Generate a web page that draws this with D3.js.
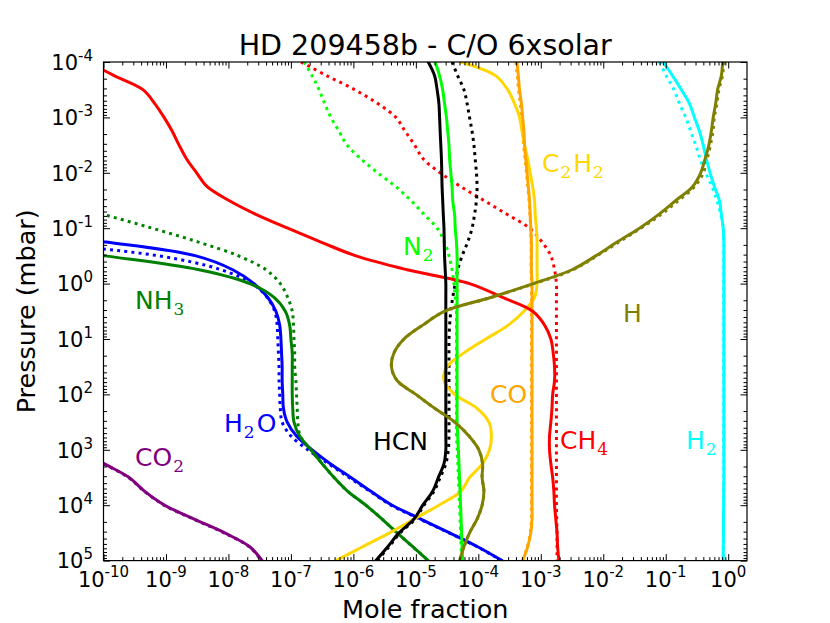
<!DOCTYPE html>
<html><head><meta charset="utf-8">
<script src="https://cdn.jsdelivr.net/npm/d3@7"></script>
<style>body{margin:0;background:#fff}svg{display:block}</style>
</head><body>
<svg id="chart" width="830" height="623"></svg>
<script>
// ---------- data (pressure in mbar, mole fractions) ----------
const pressure = [1e-4, 1.78e-4, 3.16e-4, 5.62e-4, 1e-3, 1.78e-3, 3.16e-3, 5.62e-3, 1e-2, 1.78e-2, 3.16e-2, 5.62e-2, 0.1, 0.178, 0.316, 0.562, 1, 1.78, 3.16, 5.62, 10, 17.8, 31.6, 56.2, 100, 178, 316, 562, 1000, 1780, 3160, 5620, 1e4, 1.78e4, 3.16e4, 5.62e4, 1e5];

const ch4 = [5.62e-11, 1.51e-10, 4.27e-10, 6.61e-10, 9.33e-10, 1.26e-9, 1.62e-9, 2.14e-9, 3.09e-9, 4.57e-9, 1.02e-8, 2.75e-8, 8.91e-8, 3.02e-7, 1.10e-6, 7.24e-6, 7.24e-5, 2.45e-4, 7.41e-4, 1.15e-3, 1.45e-3, 1.58e-3, 1.66e-3, 1.66e-3, 1.55e-3, 1.51e-3, 1.45e-3, 1.38e-3, 1.38e-3, 1.45e-3, 1.55e-3, 1.62e-3, 1.66e-3, 1.74e-3, 1.82e-3, 1.86e-3, 1.95e-3];
const ch4Dot = [1.45e-7, 3.80e-7, 1.05e-6, 2.45e-6, 4.79e-6, 6.76e-6, 9.55e-6, 1.32e-5, 2.45e-5, 5.25e-5, 1.23e-4, 2.88e-4, 6.61e-4, 1.05e-3, 1.45e-3, 1.66e-3, 1.78e-3, 1.78e-3, 1.78e-3, 1.78e-3, 1.78e-3, 1.78e-3, 1.78e-3, 1.78e-3, 1.78e-3, 1.78e-3, 1.78e-3, 1.78e-3, 1.78e-3, 1.78e-3, 1.78e-3, 1.78e-3, 1.78e-3, 1.80e-3, 1.82e-3, 1.82e-3, 1.82e-3];

const n2 = [2.04e-5, 2.40e-5, 2.69e-5, 2.88e-5, 3.09e-5, 3.24e-5, 3.39e-5, 3.47e-5, 3.63e-5, 3.80e-5, 3.89e-5, 4.17e-5, 4.27e-5, 4.47e-5, 4.57e-5, 4.57e-5, 4.57e-5, 4.57e-5, 4.57e-5, 4.57e-5, 4.57e-5, 4.57e-5, 4.57e-5, 4.57e-5, 4.57e-5, 4.57e-5, 4.57e-5, 4.68e-5, 4.79e-5, 4.9e-5, 5.0e-5, 5.1e-5, 5.2e-5, 5.3e-5, 5.4e-5, 5.5e-5, 5.62e-5];
const n2Dot = [1.62e-7, 2.19e-7, 2.82e-7, 3.47e-7, 4.37e-7, 5.89e-7, 7.94e-7, 1.32e-6, 2.45e-6, 4.79e-6, 8.32e-6, 1.35e-5, 2.19e-5, 2.88e-5, 3.39e-5, 3.80e-5, 4.07e-5, 4.27e-5, 4.47e-5, 4.47e-5, 4.47e-5, 4.47e-5, 4.47e-5, 4.47e-5, 4.47e-5, 4.47e-5, 4.47e-5, 4.47e-5, 4.6e-5, 4.7e-5, 4.8e-5, 4.9e-5, 5.0e-5, 5.1e-5, 5.2e-5, 5.3e-5, 5.4e-5];

const hcn = [1.58e-5, 2.00e-5, 2.19e-5, 2.34e-5, 2.40e-5, 2.45e-5, 2.51e-5, 2.57e-5, 2.60e-5, 2.63e-5, 2.69e-5, 2.75e-5, 2.82e-5, 2.85e-5, 2.88e-5, 2.95e-5, 3.02e-5, 3.02e-5, 3.02e-5, 3.02e-5, 3.02e-5, 3.02e-5, 3.02e-5, 3.02e-5, 3.02e-5, 3.02e-5, 3.02e-5, 3.02e-5, 3.02e-5, 2.82e-5, 2.29e-5, 1.86e-5, 1.29e-5, 9.33e-6, 5.37e-6, 3.55e-6, 2.29e-6];
const hcnDot = [3.80e-5, 4.68e-5, 5.89e-5, 6.61e-5, 7.24e-5, 7.94e-5, 8.51e-5, 8.91e-5, 9.33e-5, 9.55e-5, 9.33e-5, 8.71e-5, 7.94e-5, 6.76e-5, 5.50e-5, 4.68e-5, 4.27e-5, 3.89e-5, 3.63e-5, 3.47e-5, 3.39e-5, 3.39e-5, 3.39e-5, 3.39e-5, 3.39e-5, 3.39e-5, 3.39e-5, 3.39e-5, 3.31e-5, 3.02e-5, 2.45e-5, 1.95e-5, 1.35e-5, 9.77e-6, 5.62e-6, 3.72e-6, 2.40e-6];

const co = [4.17e-4, 4.37e-4, 4.57e-4, 4.90e-4, 5.13e-4, 5.37e-4, 5.50e-4, 5.75e-4, 6.03e-4, 6.31e-4, 6.61e-4, 6.76e-4, 6.92e-4, 7.08e-4, 7.08e-4, 7.08e-4, 7.24e-4, 7.24e-4, 7.24e-4, 7.24e-4, 7.24e-4, 7.24e-4, 7.24e-4, 7.24e-4, 7.24e-4, 7.24e-4, 7.24e-4, 7.24e-4, 7.24e-4, 7.24e-4, 7.24e-4, 7.24e-4, 7.24e-4, 7.24e-4, 6.92e-4, 6.17e-4, 5.13e-4];
const coDot = [4.0e-4, 4.2e-4, 4.4e-4, 4.7e-4, 4.9e-4, 5.1e-4, 5.3e-4, 5.6e-4, 5.9e-4, 6.2e-4, 6.5e-4, 6.7e-4, 6.9e-4, 7.0e-4, 7.0e-4, 7.0e-4, 7.1e-4, 7.1e-4, 7.1e-4, 7.1e-4, 7.1e-4, 7.1e-4, 7.1e-4, 7.1e-4, 7.1e-4, 7.1e-4, 7.1e-4, 7.1e-4, 7.1e-4, 7.1e-4, 7.1e-4, 7.1e-4, 7.1e-4, 7.1e-4, 6.8e-4, 6.1e-4, 5.1e-4];

const c2h2 = [5.25e-5, 1.91e-4, 2.95e-4, 3.80e-4, 4.57e-4, 5.01e-4, 5.50e-4, 6.17e-4, 6.76e-4, 7.41e-4, 7.94e-4, 8.13e-4, 8.51e-4, 8.71e-4, 8.71e-4, 8.71e-4, 8.71e-4, 7.94e-4, 5.37e-4, 3.02e-4, 1.32e-4, 5.89e-5, 3.16e-5, 2.82e-5, 4.17e-5, 9.55e-5, 1.48e-4, 1.62e-4, 1.51e-4, 1.17e-4, 7.24e-5, 5.25e-5, 2.34e-5, 9.33e-6, 3.80e-6, 1.41e-6, 5.25e-7];

const h = [0.813, 0.776, 0.676, 0.631, 0.575, 0.537, 0.490, 0.427, 0.363, 0.269, 0.145, 0.0776, 0.038, 0.0166, 7.59e-3, 3.16e-3, 7.59e-4, 1.58e-4, 2.88e-5, 1.29e-5, 6.46e-6, 4.47e-6, 4.07e-6, 5.01e-6, 1.00e-5, 2.00e-5, 4.17e-5, 7.08e-5, 1.02e-4, 1.17e-4, 1.15e-4, 1.23e-4, 1.15e-4, 9.55e-5, 7.24e-5, 5.89e-5, 5.01e-5];
const hDot = [0.85, 0.81, 0.71, 0.66, 0.60, 0.57, 0.52, 0.46, 0.40, 0.29, 0.16, 0.085, 0.040, 0.0178, 7.9e-3, 3.3e-3, 7.9e-4, 1.6e-4, 2.88e-5, 1.29e-5, 6.46e-6, 4.47e-6, 4.07e-6, 5.01e-6, 1.00e-5, 2.00e-5, 4.17e-5, 7.08e-5, 1.02e-4, 1.17e-4, 1.15e-4, 1.23e-4, 1.15e-4, 9.55e-5, 7.24e-5, 5.89e-5, 5.01e-5];

const h2 = [0.0912, 0.129, 0.178, 0.240, 0.288, 0.347, 0.398, 0.447, 0.513, 0.603, 0.724, 0.776, 0.832, 0.851, 0.851, 0.851, 0.851, 0.851, 0.851, 0.851, 0.851, 0.851, 0.851, 0.851, 0.851, 0.851, 0.851, 0.851, 0.851, 0.851, 0.851, 0.846, 0.846, 0.840, 0.840, 0.835, 0.832];
const h2Dot = [0.0794, 0.102, 0.135, 0.166, 0.209, 0.251, 0.302, 0.355, 0.437, 0.550, 0.661, 0.759, 0.832, 0.851, 0.851, 0.851, 0.851, 0.851, 0.851, 0.851, 0.851, 0.851, 0.851, 0.851, 0.851, 0.851, 0.851, 0.851, 0.851, 0.851, 0.851, 0.846, 0.846, 0.840, 0.840, 0.835, 0.832];

const nh3 = [null, null, null, null, null, null, null, null, null, null, null, null, null, 1.78e-12, 1.05e-10, 3.39e-9, 2.19e-8, 5.37e-8, 8.13e-8, 9.55e-8, 1.00e-7, 1.05e-7, 1.05e-7, 1.05e-7, 1.05e-7, 1.07e-7, 1.12e-7, 1.38e-7, 2.09e-7, 3.16e-7, 4.90e-7, 8.13e-7, 1.58e-6, 2.88e-6, 5.01e-6, 8.91e-6, 1.58e-5];
const nh3Dot = [null, null, null, null, null, null, null, null, null, null, 1.45e-11, 9.8e-11, 6.03e-10, 3.31e-9, 1.45e-8, 3.98e-8, 6.76e-8, 8.91e-8, 1.05e-7, 1.10e-7, 1.12e-7, 1.15e-7, 1.15e-7, 1.20e-7, 1.23e-7, 1.26e-7, 1.29e-7, 1.41e-7, 2.09e-7, 3.16e-7, 4.90e-7, 8.13e-7, 1.58e-6, 2.88e-6, 5.01e-6, 8.91e-6, 1.58e-5];

const h2o = [null, null, null, null, null, null, null, null, null, null, null, null, 1.17e-12, 1.10e-10, 3.02e-9, 1.17e-8, 2.57e-8, 4.27e-8, 5.75e-8, 6.61e-8, 6.92e-8, 7.08e-8, 7.24e-8, 7.24e-8, 7.41e-8, 7.59e-8, 8.71e-8, 1.23e-7, 2.19e-7, 4.27e-7, 9.12e-7, 1.91e-6, 4.17e-6, 1.20e-5, 3.47e-5, 9.77e-5, 2.40e-4];
const h2oDot = [null, null, null, null, null, null, null, null, null, null, null, null, null, 6.92e-12, 7.76e-10, 7.59e-9, 2.40e-8, 4.17e-8, 5.50e-8, 6.03e-8, 6.17e-8, 6.31e-8, 6.46e-8, 6.46e-8, 6.61e-8, 6.76e-8, 7.24e-8, 1.00e-7, 1.86e-7, 4.0e-7, 8.5e-7, 1.85e-6, 4.0e-6, 1.16e-5, 3.4e-5, 9.6e-5, 2.35e-4];

const co2 = [null, null, null, null, null, null, null, null, null, null, null, null, null, null, null, null, null, null, null, null, null, null, null, null, null, null, null, null, 4.17e-11, 1.02e-10, 2.57e-10, 4.57e-10, 9.55e-10, 2.82e-9, 8.71e-9, 2.19e-8, 3.47e-8];
const co2Dot = [null, null, null, null, null, null, null, null, null, null, null, null, null, null, null, null, null, null, null, null, null, null, null, null, null, null, null, null, 4.0e-11, 1.0e-10, 2.5e-10, 4.5e-10, 9.3e-10, 2.75e-9, 8.5e-9, 2.15e-8, 3.4e-8];

const xTicks = [1e-10, 1e-9, 1e-8, 1e-7, 1e-6, 1e-5, 1e-4, 1e-3, 1e-2, 1e-1, 1];
const xTickExp = ["-10", "-9", "-8", "-7", "-6", "-5", "-4", "-3", "-2", "-1", "0"];
const yTicks = [1e-4, 1e-3, 1e-2, 1e-1, 1, 10, 100, 1e3, 1e4, 1e5];
const yTickExp = ["-4", "-3", "-2", "-1", "0", "1", "2", "3", "4", "5"];

const titleText = "HD 209458b - C/O 6xsolar";
const xLabel = "Mole fraction";
const yLabel = "Pressure (mbar)";

// ---------- styling / layout ----------
const L = 103.5, R = 747, T = 62, B = 560.6;
const svg = d3.select("#chart");
svg.append("rect").attr("width", 830).attr("height", 623).attr("fill", "#fff");

const x = d3.scaleLog().domain([1e-10, 2]).range([L, R]);
const y = d3.scaleLog().domain([1e-4, 1e5]).range([T, B]);

const series = [
  {v: h2Dot, c: "#00ffff", d: true}, {v: hDot, c: "#808000", d: true},
  {v: ch4Dot, c: "#ff0000", d: true}, {v: n2Dot, c: "#00ff00", d: true},
  {v: hcnDot, c: "#000000", d: true}, {v: coDot, c: "#ffa500", d: true},
  {v: nh3Dot, c: "#008000", d: true}, {v: h2oDot, c: "#0000ff", d: true},
  {v: co2Dot, c: "#800080", d: true},
  {v: h2, c: "#00ffff"}, {v: co2, c: "#800080"}, {v: h2o, c: "#0000ff"},
  {v: nh3, c: "#008000"}, {v: c2h2, c: "#ffd700"}, {v: co, c: "#ffa500"},
  {v: ch4, c: "#ff0000"}, {v: hcn, c: "#000000"}, {v: n2, c: "#00ff00"},
  {v: h, c: "#808000"}
];

svg.append("defs").append("clipPath").attr("id", "clip")
  .append("rect").attr("x", L).attr("y", T).attr("width", R - L).attr("height", B - T);

const line = d3.line()
  .defined(d => d[1] != null)
  .x(d => x(d[1])).y(d => y(d[0]))
  .curve(d3.curveCatmullRom.alpha(0.5));

const plot = svg.append("g").attr("clip-path", "url(#clip)");
series.forEach(s => {
  plot.append("path")
    .datum(pressure.map((p, i) => [p, s.v[i]]))
    .attr("d", line)
    .attr("fill", "none")
    .attr("stroke", s.c)
    .attr("stroke-width", 3)
    .attr("stroke-linejoin", "round")
    .attr("stroke-linecap", s.d ? "butt" : "round")
    .attr("stroke-dasharray", s.d ? "3,4.2" : null);
});

// ---------- axes ----------
function minors(lo, hi) {
  const out = [];
  for (let e = Math.floor(Math.log10(lo)); e <= Math.ceil(Math.log10(hi)); e++)
    for (let m = 2; m <= 9; m++) { const v = m * Math.pow(10, e); if (v > lo * 1.0001 && v < hi * 0.9999) out.push(v); }
  return out;
}
const xMin = minors(1e-10, 2), yMin = minors(1e-4, 1e5);
function styleAxis(g) { g.select(".domain").remove(); g.selectAll("line").attr("stroke", "#000").attr("stroke-width", 1); }
const axes = [
  [d3.axisBottom(x), xTicks, xMin, `translate(0,${B})`],
  [d3.axisTop(x), xTicks, xMin, `translate(0,${T})`],
  [d3.axisLeft(y), yTicks, yMin, `translate(${L},0)`],
  [d3.axisRight(y), yTicks, yMin, `translate(${R},0)`]
];
axes.forEach(([ax, maj, mn, tr]) => {
  svg.append("g").attr("transform", tr)
    .call(ax.tickValues(maj).tickSizeInner(-6.5).tickSizeOuter(0).tickFormat(""))
    .call(styleAxis);
  svg.append("g").attr("transform", tr)
    .call(ax.tickValues(mn).tickSizeInner(-3.5).tickSizeOuter(0).tickFormat(""))
    .call(styleAxis);
});
svg.append("rect").attr("x", L).attr("y", T).attr("width", R - L).attr("height", B - T)
  .attr("fill", "none").attr("stroke", "#000").attr("stroke-width", 1.2);

const font = "DejaVu Sans, Verdana, sans-serif";
// x tick labels
xTicks.forEach((v, i) => {
  const t = svg.append("text").attr("x", x(v)).attr("y", 587).attr("text-anchor", "middle")
    .attr("font-family", font).attr("font-size", 21).attr("fill", "#000");
  t.append("tspan").text("10");
  t.append("tspan").attr("font-size", 15).attr("dy", -10).text(xTickExp[i]);
});
// y tick labels
yTicks.forEach((v, i) => {
  const t = svg.append("text").attr("x", 93).attr("y", y(v) + 7.8).attr("text-anchor", "end")
    .attr("font-family", font).attr("font-size", 21).attr("fill", "#000");
  t.append("tspan").text("10");
  t.append("tspan").attr("font-size", 15).attr("dy", -9).text(yTickExp[i]);
});

// title & axis labels
svg.append("text").attr("x", (L + R) / 2).attr("y", 55).attr("text-anchor", "middle")
  .attr("font-family", font).attr("font-size", 28.5).text(titleText);
svg.append("text").attr("x", (L + R) / 2).attr("y", 618).attr("text-anchor", "middle")
  .attr("font-family", font).attr("font-size", 25.5).text(xLabel);
svg.append("text").attr("transform", `translate(35,${(T + B) / 2}) rotate(-90)`).attr("text-anchor", "middle")
  .attr("font-family", font).attr("font-size", 25.5).text(yLabel);

// species labels
const speciesLabels = [
  {parts: [["NH", 0], ["3", 1]], c: "#008000", x: 135, y: 309},
  {parts: [["H", 0], ["2", 1], ["O", 0]], c: "#0000ff", x: 224, y: 432},
  {parts: [["CO", 0], ["2", 1]], c: "#800080", x: 135, y: 466},
  {parts: [["HCN", 0]], c: "#000000", x: 373, y: 450},
  {parts: [["CO", 0]], c: "#ffa500", x: 490, y: 403},
  {parts: [["CH", 0], ["4", 1]], c: "#ff0000", x: 560, y: 449},
  {parts: [["H", 0], ["2", 1]], c: "#00ffff", x: 686, y: 449},
  {parts: [["H", 0]], c: "#808000", x: 623, y: 322},
  {parts: [["N", 0], ["2", 1]], c: "#00ff00", x: 403, y: 255},
  {parts: [["C", 0], ["2", 1], ["H", 0], ["2", 1]], c: "#ffd700", x: 542, y: 172}
];
speciesLabels.forEach(lb => {
  const t = svg.append("text").attr("x", lb.x).attr("y", lb.y).attr("fill", lb.c)
    .attr("font-family", font).attr("font-size", 25);
  let prevSub = false;
  lb.parts.forEach(([s, sub]) => {
    const ts = t.append("tspan").text(s);
    if (sub) {
      ts.attr("font-family", "DejaVu Serif, serif").attr("font-size", 17).attr("dy", 6).attr("dx", 1);
    } else if (prevSub) {
      ts.attr("dy", -6).attr("dx", 2);
    }
    prevSub = !!sub;
  });
});
</script>
</body></html>
